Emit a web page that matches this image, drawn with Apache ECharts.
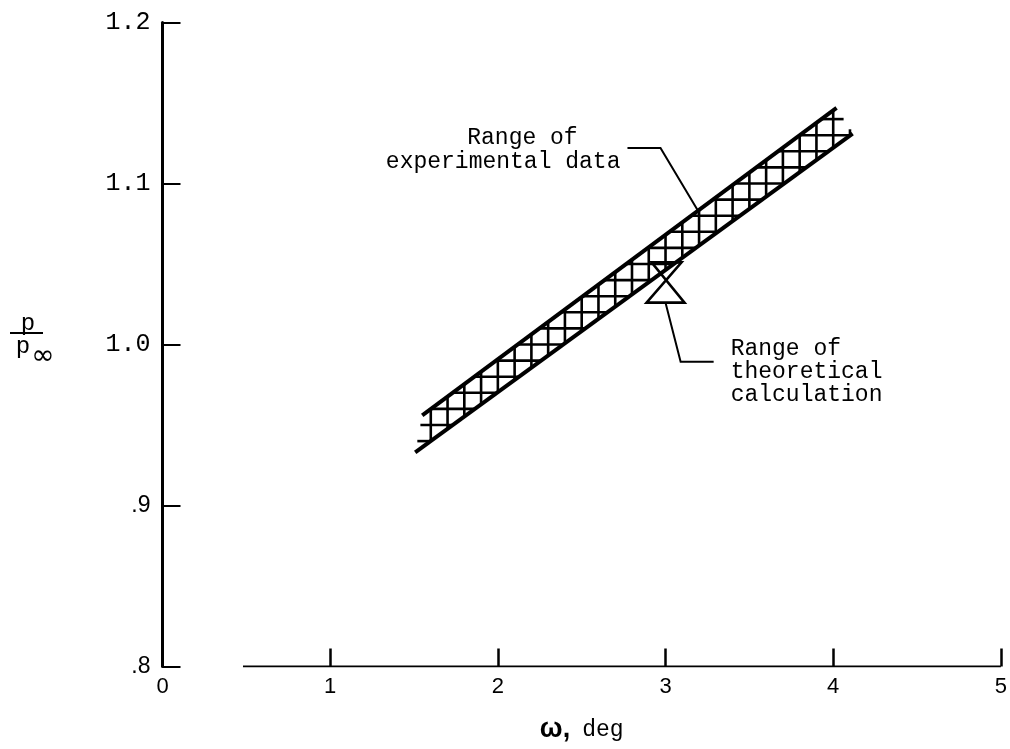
<!DOCTYPE html>
<html>
<head>
<meta charset="utf-8">
<script src="https://cdn.jsdelivr.net/npm/echarts@6/dist/echarts.min.js"></script>
<style>
  html, body { margin: 0; padding: 0; background: #fff; }
  #chart { width: 1010px; height: 749px; }
</style>
</head>
<body>
<div id="chart"></div>
<script>
// ---- data (ω in deg, pressure ratio p/p∞) ----
const xTicks = [0, 1, 2, 3, 4, 5];
const yTicks = [0.8, 0.9, 1.0, 1.1, 1.2];

// Range of experimental data: lower and upper boundaries of the band
const bandLower = [[1.507, 0.933], [4.116, 1.131]];
const bandUpper = [[1.549, 0.956], [4.02, 1.147]];

// Range of theoretical calculation at a single ω
const theoryOmega = 3.0;
const theoryRange = [1.026, 1.051];

// Leader lines for the two notes (data coordinates)
const expLeader = [[2.773, 1.122], [2.970, 1.122], [3.191, 1.0835]];
const theoryLeader = [[3.0, 1.026], [3.09, 0.9893], [3.287, 0.9893]];

const expNote = ['Range of', 'experimental data'];
const theoryNote = ['Range of', 'theoretical', 'calculation'];

// x axis rule is drawn only over this span
const baseSpan = [[0.48, 0.8], [5, 0.8]];

// ---- drawing ----
const MONO = '"Liberation Mono", "DejaVu Sans Mono", monospace';
const SANS = '"Liberation Sans", Arial, sans-serif';
const INK = '#000';

// intersection range of the line (coord k == c) with a convex polygon
function clipToPolygon(poly, k, c) {
  const o = 1 - k;
  const hits = [];
  for (let i = 0; i < poly.length; i++) {
    const a = poly[i], b = poly[(i + 1) % poly.length];
    if (a[k] === b[k]) continue;
    if ((a[k] - c) * (b[k] - c) <= 0) {
      const t = (c - a[k]) / (b[k] - a[k]);
      hits.push(a[o] + t * (b[o] - a[o]));
    }
  }
  if (hits.length < 2) return null;
  return [Math.min.apply(null, hits), Math.max.apply(null, hits)];
}

function renderBand(params, api) {
  const poly = [bandLower[0], bandLower[1], bandUpper[1], bandUpper[0]];
  const ws = poly.map(p => p[0]);
  const ps = poly.map(p => p[1]);
  const children = [];
  const hatch = { stroke: INK, lineWidth: 2.6 };
  // vertical hatch every 0.1 deg
  for (let i = Math.ceil(Math.min.apply(null, ws) * 10); i <= Math.floor(Math.max.apply(null, ws) * 10); i++) {
    const w = i / 10;
    const r = clipToPolygon(poly, 0, w);
    if (!r) continue;
    const a = api.coord([w, r[0]]), b = api.coord([w, r[1]]);
    children.push({ type: 'line', shape: { x1: a[0], y1: a[1], x2: b[0], y2: b[1] }, style: hatch });
  }
  // horizontal hatch every 0.01
  for (let j = Math.ceil(Math.min.apply(null, ps) * 100); j <= Math.floor(Math.max.apply(null, ps) * 100); j++) {
    const p = j / 100;
    const r = clipToPolygon(poly, 1, p);
    if (!r) continue;
    const a = api.coord([r[0], p]), b = api.coord([r[1], p]);
    children.push({ type: 'line', shape: { x1: a[0], y1: a[1], x2: b[0], y2: b[1] }, style: hatch });
  }
  [bandLower, bandUpper].forEach(edge => {
    children.push({
      type: 'polyline',
      shape: { points: edge.map(d => api.coord(d)) },
      style: { stroke: INK, lineWidth: 4, fill: null }
    });
  });
  return { type: 'group', children: children };
}

function renderTheory(params, api) {
  const top = api.coord([theoryOmega, theoryRange[1]]);
  const bot = api.coord([theoryOmega, theoryRange[0]]);
  return {
    type: 'polygon',
    shape: { points: [[top[0] - 14, top[1]], [top[0] + 16, top[1]], [bot[0] - 19, bot[1]], [bot[0] + 19, bot[1]]] },
    style: { stroke: INK, lineWidth: 2.6, fill: null }
  };
}

function noteText(x, y, text, align) {
  return {
    type: 'text',
    style: {
      x: x, y: y, text: text, fill: INK,
      font: '23px ' + MONO, fontSize: 23, fontFamily: MONO,
      align: align, textAlign: align,
      verticalAlign: 'middle', textVerticalAlign: 'middle'
    }
  };
}

function renderNotes(params, api) {
  const children = [];
  [expLeader, theoryLeader].forEach(pts => {
    children.push({
      type: 'polyline',
      shape: { points: pts.map(d => api.coord(d)) },
      style: { stroke: INK, lineWidth: 2, fill: null }
    });
  });
  const e0 = api.coord(expLeader[0]);
  children.push(noteText(e0[0] - 105, e0[1] - 10, expNote[0], 'center'));
  children.push(noteText(e0[0] - 7, e0[1] + 14, expNote[1], 'right'));
  const t2 = api.coord(theoryLeader[2]);
  theoryNote.forEach((s, i) => {
    children.push(noteText(t2[0] + 17, t2[1] - 13 + i * 23, s, 'left'));
  });
  return { type: 'group', children: children };
}

const chart = echarts.init(document.getElementById('chart'));
chart.setOption({
  animation: false,
  backgroundColor: '#fff',
  grid: { left: 162.5, right: 8, top: 22.5, bottom: 82.5, containLabel: false },
  xAxis: {
    type: 'value', min: xTicks[0], max: xTicks[xTicks.length - 1], interval: 1,
    axisLine: { show: false },
    axisTick: { show: true, inside: true, length: 18, lineStyle: { color: INK, width: 2.5 } },
    splitLine: { show: false },
    axisLabel: { color: INK, fontFamily: SANS, fontSize: 22, margin: 9 },
    name: '{w|ω,}{d|deg}',
    nameLocation: 'middle',
    nameGap: 50,
    nameTextStyle: {
      rich: {
        w: { fontFamily: SANS, fontWeight: 'bold', fontSize: 27, color: INK, padding: [0, 12, 0, 0] },
        d: { fontFamily: MONO, fontSize: 23, color: INK }
      }
    }
  },
  yAxis: {
    type: 'value', min: yTicks[0], max: yTicks[yTicks.length - 1], interval: 0.1,
    axisLine: { show: true, lineStyle: { color: INK, width: 3 } },
    axisTick: { show: true, inside: true, length: 18, lineStyle: { color: INK, width: 2 } },
    splitLine: { show: false },
    axisLabel: {
      margin: 12,
      formatter: function (v) {
        const s = v.toFixed(1);
        return v < 1 ? '{s|' + s.replace(/^0/, '') + '}' : '{m|' + s + '}';
      },
      rich: {
        m: { fontFamily: MONO, fontSize: 25, color: INK },
        s: { fontFamily: SANS, fontSize: 23, color: INK }
      }
    }
  },
  graphic: [
    { type: 'text', style: { x: 28, y: 324, text: 'p', font: '24px ' + MONO, fill: INK, textAlign: 'center', textVerticalAlign: 'middle', align: 'center', verticalAlign: 'middle' } },
    { type: 'line', shape: { x1: 10, y1: 333, x2: 43, y2: 333 }, style: { stroke: INK, lineWidth: 2 } },
    { type: 'text', style: { x: 23, y: 347, text: 'p', font: '24px ' + MONO, fill: INK, textAlign: 'center', textVerticalAlign: 'middle', align: 'center', verticalAlign: 'middle' } },
    { type: 'text', style: { x: 43, y: 357, text: '∞', font: '28px "DejaVu Sans", sans-serif', fill: INK, textAlign: 'center', textVerticalAlign: 'middle', align: 'center', verticalAlign: 'middle' } }
  ],
  series: [
    {
      type: 'line', data: baseSpan, symbol: 'none', silent: true,
      lineStyle: { color: INK, width: 2 }
    },
    { type: 'custom', renderItem: renderBand, data: [[0, 0]], clip: false, silent: true },
    { type: 'custom', renderItem: renderTheory, data: [[0, 0]], clip: false, silent: true },
    { type: 'custom', renderItem: renderNotes, data: [[0, 0]], clip: false, silent: true }
  ]
});
</script>
</body>
</html>
